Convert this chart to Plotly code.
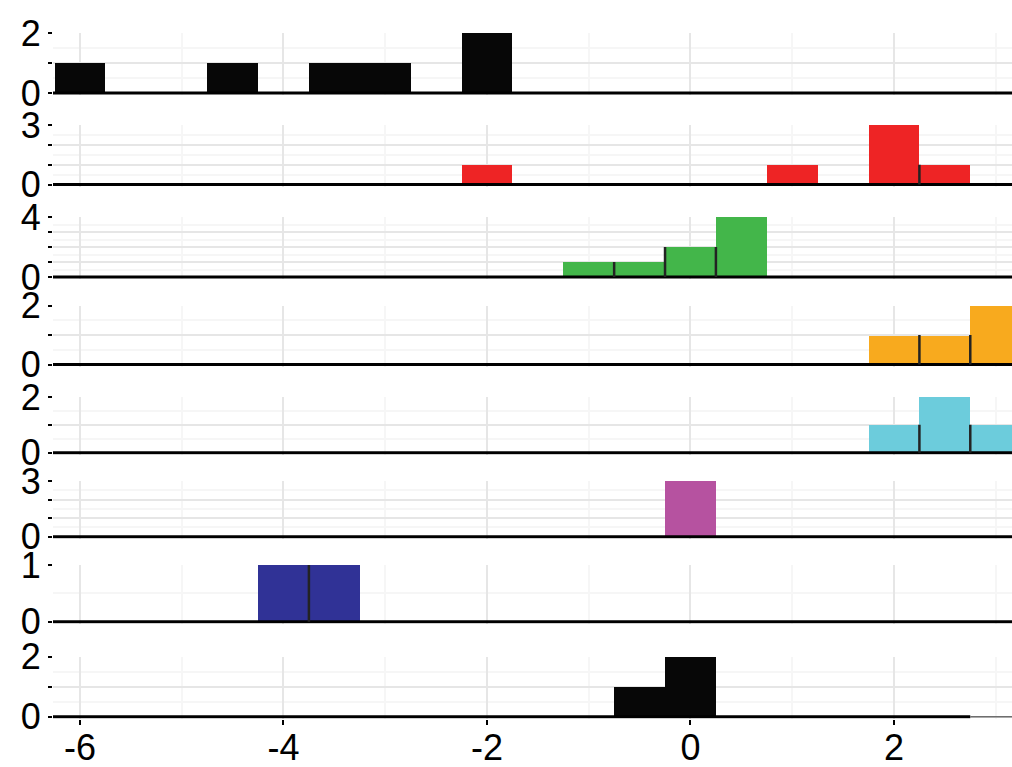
import plotly.graph_objects as go

# Binned counts per group (bin width 0.5, bins centred on multiples of 0.5)
centers_1 = [-6, -4.5, -3.5, -3, -2]
counts_1 = [1, 1, 1, 1, 2]
centers_2 = [-2, 1, 2, 2.5]
counts_2 = [1, 1, 3, 1]
centers_3 = [-1, -0.5, 0, 0.5]
counts_3 = [1, 1, 2, 4]
centers_4 = [2, 2.5, 3]
counts_4 = [1, 1, 2]
centers_5 = [2, 2.5, 3]
counts_5 = [1, 2, 1]
centers_6 = [0]
counts_6 = [3]
centers_7 = [-4, -3.5]
counts_7 = [1, 1]
centers_8 = [-0.5, 0]
counts_8 = [1, 2]

# Dark edge marks between neighbouring bins
marks_x = [[], [2.25], [-0.75, -0.25, 0.25], [2.25, 2.75], [2.25, 2.75], [], [-3.75], []]
marks_h = [[], [1], [1, 2, 2], [1, 1], [1, 1], [], [1], []]

# Upper end of the zero baseline for each group
baseline_end = [3.5, 3.5, 3.5, 3.5, 3.5, 3.5, 3.5, 2.75]

y_max = [2, 3, 4, 2, 2, 3, 1, 2]
colors = ["#070707", "#EE2425", "#43B64A", "#F8AA1E",
          "#6CCCDC", "#B652A0", "#303296", "#070707"]

x_ticks = [-6, -4, -2, 0, 2]
x_range = [-6.265, 3.16]

centers = [centers_1, centers_2, centers_3, centers_4,
           centers_5, centers_6, centers_7, centers_8]
counts = [counts_1, counts_2, counts_3, counts_4,
          counts_5, counts_6, counts_7, counts_8]

# Panel placement in pixels: (top of panel, zero line)
W, H = 1012, 767
M_L, M_R, M_T, M_B = 53, 0, 0, 47
PLOT_H = H - M_T - M_B
panel_px = [(33, 93), (125, 184.5), (217, 277), (305.5, 364.5),
            (397, 452.7), (481, 536.7), (565, 621.7), (656.7, 716.7)]
BELOW = 2.0  # pixels kept under the zero line so the baseline is not clipped

FONT = "Liberation Sans, Arial, sans-serif"
GRID = "#E6E6E6"
GRID_MINOR = "#F6F6F6"

fig = go.Figure()
layout = {}
n = len(centers)
for i in range(n):
    k = i + 1
    xa = "x" if k == 1 else f"x{k}"
    ya = "y" if k == 1 else f"y{k}"
    top_px, zero_px = panel_px[i]
    ppu = (zero_px - top_px) / y_max[i]
    y_lo = -BELOW / ppu
    dom = [1 - (zero_px + BELOW) / PLOT_H, 1 - top_px / PLOT_H]

    # baseline at zero
    fig.add_trace(go.Scatter(
        x=[-7, baseline_end[i]], y=[0, 0], mode="lines",
        line=dict(color="#000000", width=3), xaxis=xa, yaxis=ya,
        hoverinfo="skip", showlegend=False))
    if baseline_end[i] < x_range[1]:
        fig.add_trace(go.Scatter(
            x=[baseline_end[i], 4], y=[0, 0], mode="lines",
            line=dict(color="#6E6E6E", width=1.5), xaxis=xa, yaxis=ya,
            hoverinfo="skip", showlegend=False))

    fig.add_trace(go.Bar(
        x=centers[i], y=counts[i], width=0.5,
        marker=dict(color=colors[i], line=dict(width=0)),
        xaxis=xa, yaxis=ya, showlegend=False))

    if marks_x[i]:
        mx, my = [], []
        for xv, hv in zip(marks_x[i], marks_h[i]):
            mx += [xv, xv, None]
            my += [0, hv, None]
        fig.add_trace(go.Scatter(
            x=mx, y=my, mode="lines",
            line=dict(color="#232323", width=2.5), xaxis=xa, yaxis=ya,
            hoverinfo="skip", showlegend=False))

    last = (k == n)
    tv = list(range(y_max[i] + 1))
    tt = [str(v) if v in (0, y_max[i]) else "" for v in tv]
    layout[f"xaxis{'' if k == 1 else k}"] = dict(
        domain=[0, 1], range=x_range, anchor=ya, automargin=False,
        tickvals=x_ticks, ticktext=[str(v) for v in x_ticks],
        showticklabels=last, ticks="outside" if last else "",
        ticklen=5, tickwidth=2, tickcolor="#000000",
        ticklabelstandoff=-8,
        showgrid=True, gridcolor=GRID, gridwidth=2,
        minor=dict(dtick=1, tick0=0, showgrid=True, gridcolor=GRID_MINOR, gridwidth=2),
        zeroline=False, showline=False,
        tickfont=dict(family=FONT, size=36, color="#000000"),
        matches=None if k == 1 else "x",
    )
    layout[f"yaxis{'' if k == 1 else k}"] = dict(
        domain=dom, range=[y_lo, y_max[i]], anchor=xa, automargin=False,
        tickvals=tv, ticktext=tt, ticks="outside", ticklen=4, tickwidth=2,
        tickcolor="#000000",
        showgrid=True, gridcolor=GRID, gridwidth=2,
        minor=dict(dtick=0.5, tick0=0, showgrid=True, gridcolor=GRID_MINOR, gridwidth=2),
        zeroline=False, showline=False,
        tickfont=dict(family=FONT, size=36, color="#000000"),
    )

fig.update_layout(
    width=W, height=H,
    margin=dict(l=M_L, r=M_R, t=M_T, b=M_B),
    paper_bgcolor="#FFFFFF", plot_bgcolor="#FFFFFF",
    bargap=0, showlegend=False,
    **layout,
)

fig.write_html("out.html")
